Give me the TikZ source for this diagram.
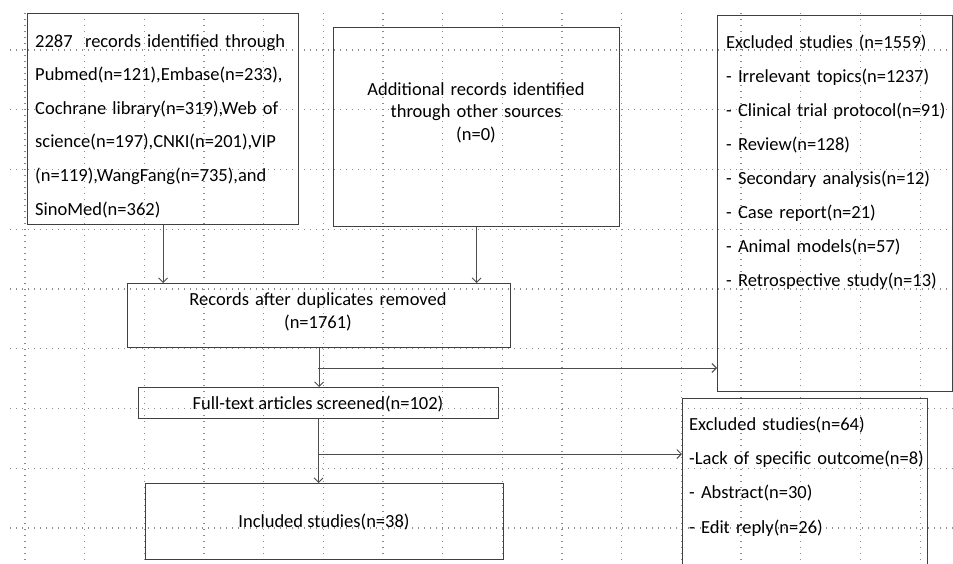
\documentclass[tikz,border=0pt]{standalone}
\usepackage{fontspec}
\setmainfont{Carlito}
\usetikzlibrary{arrows.meta}
\begin{document}
\begin{tikzpicture}[x=1pt,y=-1pt,
  box/.style={draw=black!75, line width=1.1pt, inner sep=0pt, anchor=north west},
  txt/.style={inner sep=0pt, text=black},
  conn/.style={draw=black!70, line width=0.9pt},
  arr/.style={conn, -{Straight Barb[length=4.5pt,width=9pt]}},
  gridline/.style={draw=black!45, line width=1.1pt, dash pattern=on 1.3pt off 4.7pt}]
\useasboundingbox (0,0) rectangle (953,563);
\clip (0,0) rectangle (953,563);
% dotted grid
\foreach \k in {0,...,15} \draw[gridline] ({25+59.67*\k},13) -- ({25+59.67*\k},563);
\foreach \k in {0,...,8} \draw[gridline] (10,{50+59.75*\k}) -- (953,{50+59.75*\k});
% boxes
\node[box, minimum width=271pt, minimum height=211pt] (box1) at (27,13) {};
\node[box, minimum width=286pt, minimum height=199pt] (box2) at (333,27) {};
\node[box, minimum width=235pt, minimum height=376pt] (box3) at (717,15) {};
\node[box, minimum width=383pt, minimum height=64pt] (box4) at (127,283) {};
\node[box, minimum width=360pt, minimum height=31pt] (box5) at (138,387) {};
\node[box, minimum width=358pt, minimum height=76pt] (box6) at (145,483) {};
\node[box, minimum width=245pt, minimum height=220pt] (box7) at (682,398) {};
% texts
\node[txt, anchor=base west, text width=280pt, align=left,
  font=\fontsize{18.5}{33.6}\selectfont] (t1) at (35,47)
  {2287\ \ records identified through\\Pubmed(n=121),Embase(n=233),\\Cochrane library(n=319),Web of\\science(n=197),CNKI(n=201),VIP\\(n=119),WangFang(n=735),and\\SinoMed(n=362)};
\node[txt, anchor=base, text width=280pt, align=center,
  font=\fontsize{18.5}{22.5}\selectfont] (t2) at (476,95)
  {Additional records identified\\through other sources\\(n=0)};
\node[txt, anchor=base west, text width=250pt, align=left,
  font=\fontsize{18.5}{34.1}\selectfont] (t3) at (726,48)
  {Excluded studies (n=1559)\\- Irrelevant topics(n=1237)\\- Clinical trial protocol(n=91)\\- Review(n=128)\\- Secondary analysis(n=12)\\- Case report(n=21)\\- Animal models(n=57)\\- Retrospective study(n=13)};
\node[txt, anchor=base, text width=370pt, align=center,
  font=\fontsize{18.5}{23}\selectfont] (t4) at (318,305)
  {Records after duplicates removed\\(n=1761)};
\node[txt, anchor=base, font=\fontsize{18.5}{23}\selectfont] (t5) at (318,409)
  {Full-text articles screened(n=102)};
\node[txt, anchor=base, font=\fontsize{18.5}{23}\selectfont] (t6) at (324,527)
  {Included studies(n=38)};
\node[txt, anchor=base west, text width=250pt, align=left,
  font=\fontsize{18.5}{34.4}\selectfont] (t7) at (689,430)
  {Excluded studies(n=64)\\-Lack of specific outcome(n=8)\\- Abstract(n=30)\\- Edit reply(n=26)};
% connectors
\draw[arr] (box1.south) -- (box1.south |- box4.north);
\draw[arr] (box2.south) -- (box2.south |- box4.north);
\draw[arr] (box4.south) -- (box4.south |- box5.north);
\coordinate (j1) at (318,368);
\draw[arr] (j1) -- (j1 -| box3.west);
\draw[arr] (box5.south) -- (box5.south |- box6.north);
\coordinate (j2) at (318,454);
\draw[arr] (j2) -- (j2 -| box7.west);
\end{tikzpicture}
\end{document}
